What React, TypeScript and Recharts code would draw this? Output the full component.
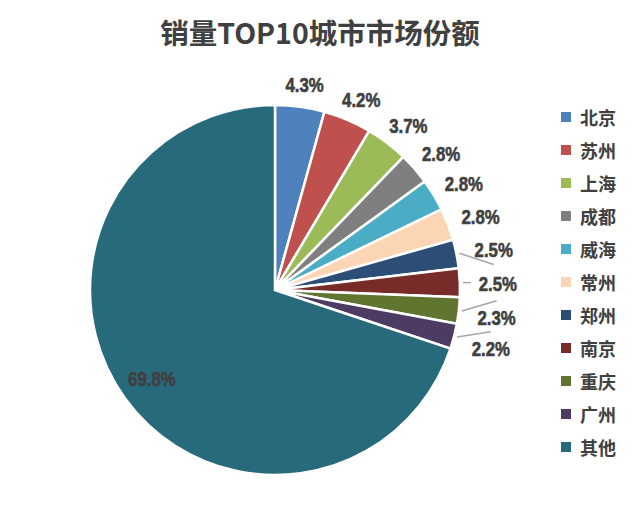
import React from "react";
import { PieChart, Pie, Cell } from "recharts";

const cities = ["北京", "苏州", "上海", "成都", "威海", "常州", "郑州", "南京", "重庆", "广州", "其他"];
const shares = [4.3, 4.2, 3.7, 2.8, 2.8, 2.8, 2.5, 2.5, 2.3, 2.2, 69.8];
const colors = [
  "#4F81BD", "#C0504D", "#9BBB59", "#7F7F7F", "#4BACC6", "#FCD5B5",
  "#2C4D75", "#772C2A", "#5F7530", "#4D3B62", "#276A7C",
];

const data = cities.map((name, i) => ({ name, value: shares[i] }));

const RAD = Math.PI / 180;

// narrow heavy look: Arial-metric bold squeezed horizontally, with a thin stroke
const NarrowText = ({ x, y, children }: { x: number; y: number; children: React.ReactNode }) => (
  <text
    transform={`translate(${x},${y}) scale(0.8,1)`}
    textAnchor="middle"
    dominantBaseline="central"
    style={{
      fontFamily: "'Liberation Sans', Arial, sans-serif",
      fontWeight: 700,
      fontSize: 21,
      fill: "#404040",
      stroke: "#404040",
      strokeWidth: 0.6,
    }}
  >
    {children}
  </text>
);

const renderLabel = (props: any) => {
  const { cx, cy, midAngle, outerRadius, index, value } = props;
  const dx = Math.cos(midAngle * RAD);
  const dy = -Math.sin(midAngle * RAD);
  const text = `${value.toFixed(1)}%`;

  if (index === cities.length - 1) {
    const r = outerRadius * 0.82;
    return <NarrowText x={cx + r * dx} y={cy + r * dy}>{text}</NarrowText>;
  }
  if (index >= 6) {
    // small slices pulled out with a leader line
    const r = outerRadius + 38;
    const lx = cx + r * dx;
    const ly = cy + r * dy + 3;
    const sx = cx + (outerRadius + 3) * dx;
    const sy = cy + (outerRadius + 3) * dy;
    let ex = lx;
    let ey = ly + (dy < 0 ? 15 : -17);
    if (Math.abs(dy) < 0.1) {
      ex = lx - 27;
      ey = sy;
    }
    return (
      <g>
        <line x1={sx} y1={sy} x2={ex} y2={ey} stroke="#A6A6A6" strokeWidth={1.5} />
        <NarrowText x={lx} y={ly}>{text}</NarrowText>
      </g>
    );
  }
  const r = outerRadius + 13;
  return <NarrowText x={cx + r * dx + 22 * dx} y={cy + r * dy + 9 * dy}>{text}</NarrowText>;
};

export default function App() {
  return (
    <div style={{ position: "absolute", left: 0, top: 0, width: 640, height: 524, background: "#fff" }}>
      <div
        style={{
          position: "absolute",
          top: 11,
          left: 0,
          width: 640,
          textAlign: "center",
          fontFamily: "'Noto Sans CJK SC', sans-serif",
          fontWeight: 700,
          fontSize: 28.5,
          color: "#404040",
        }}
      >
        销量TOP10城市市场份额
      </div>
      <PieChart width={640} height={524} margin={{ top: 0, right: 0, bottom: 0, left: 0 }}>
        <Pie
          data={data}
          dataKey="value"
          nameKey="name"
          cx={275}
          cy={290}
          outerRadius={185}
          startAngle={90}
          endAngle={-270}
          stroke="#fff"
          strokeWidth={2.5}
          label={renderLabel}
          labelLine={false}
          isAnimationActive={false}
        >
          {data.map((d, i) => (
            <Cell key={d.name} fill={colors[i]} />
          ))}
        </Pie>
      </PieChart>
      <div
        style={{
          position: "absolute",
          left: 561,
          top: 100,
          fontFamily: "'Noto Sans CJK SC', sans-serif",
          fontWeight: 700,
          fontSize: 18,
          color: "#404040",
        }}
      >
        {cities.map((c, i) => (
          <div key={c} style={{ display: "flex", alignItems: "center", height: 33.1 }}>
            <span style={{ display: "inline-block", width: 10, height: 10, background: colors[i], marginRight: 9 }} />
            <span>{c}</span>
          </div>
        ))}
      </div>
    </div>
  );
}
